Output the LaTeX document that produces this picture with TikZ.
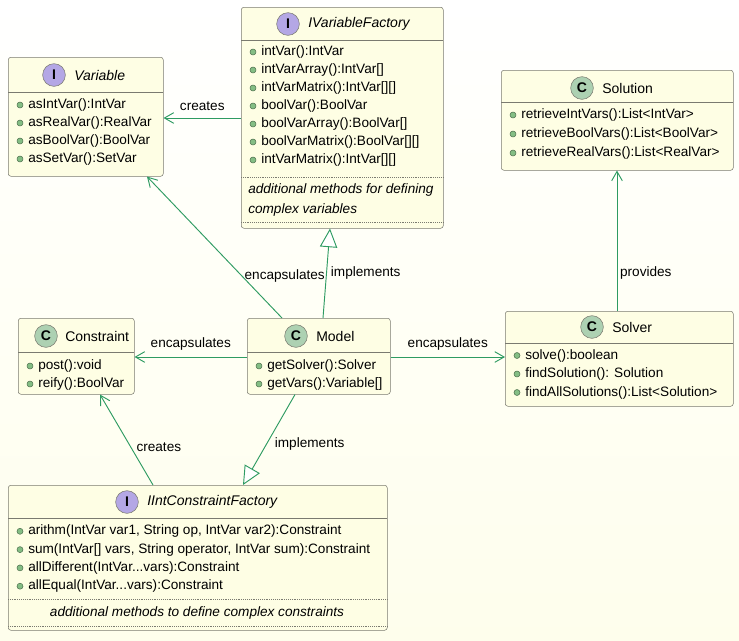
\documentclass[tikz,border=0pt]{standalone}
\usepackage{fontspec}
\setmainfont{Liberation Sans}
\usetikzlibrary{arrows.meta,calc}
\definecolor{boxfill}{HTML}{FEFEE4}
\definecolor{boxline}{HTML}{7A7A70}
\definecolor{linkcol}{HTML}{2E9B62}
\definecolor{iface}{HTML}{B4A7E5}
\definecolor{klass}{HTML}{ADD1B2}
\definecolor{dotcol}{HTML}{84BE84}
\newcommand\tdots{.{}.{}.}
\tikzset{
  box/.style={draw=boxline, fill=boxfill, rounded corners=2pt, anchor=north west, inner sep=0pt},
  spot/.style={circle, draw=boxline, minimum size=17pt, inner sep=0pt, font=\bfseries\fontsize{10.5}{10}\selectfont},
  member/.style={anchor=west, inner sep=0pt, font=\fontsize{10.2}{12}\selectfont},
  title/.style={anchor=west, inner sep=0pt, font=\fontsize{10.5}{12}\selectfont},
  dot/.style={circle, fill=dotcol, draw=dotcol!60!black, minimum size=4.5pt, inner sep=0pt},
  link/.style={draw=linkcol, line width=0.7pt, -{Straight Barb[length=7pt,width=8pt]}},
  impl/.style={draw=linkcol, line width=0.7pt, -{Triangle[open,length=14pt,width=13pt,fill=white]}},
  lab/.style={font=\fontsize{10.2}{12}\selectfont, inner sep=0pt}
}
\begin{document}
\begin{tikzpicture}[x=0.75pt,y=-0.75pt]
  \shade[top color=white, bottom color=boxfill!70] (0,0) rectangle (739,640);
  \useasboundingbox (0,0) rectangle (739,640);

  % Variable
  \node[box, minimum width=155*0.75pt, minimum height=119*0.75pt] (var) at (8,57) {};
  \draw[boxline] (8,92) -- (163,92);
  \node[spot, fill=iface] (varS) at (54,75) {I};
  \node[title, font=\itshape\fontsize{10.5}{12}\selectfont] (varT) at (74,75) {Variable};
  \foreach \t [count=\i] in {asIntVar():IntVar, asRealVar():RealVar, asBoolVar():BoolVar, asSetVar():SetVar} {
    \node[dot] (vd\i) at (20,87+18*\i) {};
    \node[member] (vm\i) at (28,87+18*\i) {\t};
  }

  % IVariableFactory
  \node[box, minimum width=202*0.75pt, minimum height=221*0.75pt] (ivf) at (241,7) {};
  \draw[boxline] (241,40) -- (443,40);
  \node[spot, fill=iface] (ivfS) at (288,24) {I};
  \node[title, font=\itshape\fontsize{10.5}{12}\selectfont] (ivfT) at (308,24) {IVariableFactory};
  \foreach \t [count=\i] in {intVar():IntVar, intVarArray():IntVar[], intVarMatrix():IntVar[][], boolVar():BoolVar, boolVarArray():BoolVar[], boolVarMatrix():BoolVar[][], intVarMatrix():IntVar[][]} {
    \node[dot] (fd\i) at (253,34+18*\i) {};
    \node[member] (fm\i) at (261,34+18*\i) {\t};
  }
  \draw[boxline, densely dotted] (241,177) -- (443,177);
  \node[member, font=\itshape\fontsize{10.2}{12}\selectfont] (ivfA) at (248,190) {additional methods for defining};
  \node[member, font=\itshape\fontsize{10.2}{12}\selectfont] (ivfB) at (248,210) {complex variables};
  \draw[boxline, densely dotted] (241,222) -- (443,222);

  % Solution
  \node[box, minimum width=232*0.75pt, minimum height=100*0.75pt] (sol) at (501,70) {};
  \draw[boxline] (501,102) -- (733,102);
  \node[spot, fill=klass] (solS) at (582,88) {C};
  \node[title] (solT) at (602,88) {Solution};
  \foreach \t [count=\i] in {retrieveIntVars():List<IntVar>, retrieveBoolVars():List<BoolVar>, retrieveRealVars():List<RealVar>} {
    \node[dot] (sd\i) at (513,96+19*\i) {};
    \node[member] (sm\i) at (521,96+19*\i) {\t};
  }

  % Constraint
  \node[box, minimum width=116*0.75pt, minimum height=76*0.75pt] (con) at (18,318) {};
  \draw[boxline] (18,352) -- (134,352);
  \node[spot, fill=klass] (conS) at (46,336) {C};
  \node[title] (conT) at (65,336) {Constraint};
  \foreach \t [count=\i] in {post():void, reify():BoolVar} {
    \node[dot] (cd\i) at (30,348+18*\i) {};
    \node[member] (cm\i) at (38,348+18*\i) {\t};
  }

  % Model
  \node[box, minimum width=143*0.75pt, minimum height=76*0.75pt] (mod) at (247,318) {};
  \draw[boxline] (247,352) -- (390,352);
  \node[spot, fill=klass] (modS) at (296,336) {C};
  \node[title] (modT) at (316,336) {Model};
  \foreach \t [count=\i] in {getSolver():Solver, getVars():Variable[]} {
    \node[dot] (md\i) at (259,348+18*\i) {};
    \node[member] (mm\i) at (267,348+18*\i) {\t};
  }

  % Solver
  \node[box, minimum width=228*0.75pt, minimum height=95*0.75pt] (slv) at (505,311) {};
  \draw[boxline] (505,343) -- (733,343);
  \node[spot, fill=klass] (slvS) at (592,327) {C};
  \node[title] (slvT) at (612,327) {Solver};
  \foreach \t [count=\i] in {solve():boolean, findSolution(): Solution, findAllSolutions():List<Solution>} {
    \node[dot] (rd\i) at (517,337+18.5*\i) {};
    \node[member] (rm\i) at (525,337+18.5*\i) {\t};
  }

  % IIntConstraintFactory
  \node[box, minimum width=379*0.75pt, minimum height=145*0.75pt] (icf) at (8,485) {};
  \draw[boxline] (8,518) -- (387,518);
  \node[spot, fill=iface] (icfS) at (127,502) {I};
  \node[title, font=\itshape\fontsize{10.5}{12}\selectfont] (icfT) at (147,502) {IIntConstraintFactory};
  \foreach \t [count=\i] in {{arithm(IntVar var1, String op, IntVar var2):Constraint}, {sum(IntVar[] vars, String operator, IntVar sum):Constraint}, allDifferent(IntVar\tdots vars):Constraint, allEqual(IntVar\tdots vars):Constraint} {
    \node[dot] (id\i) at (20,513+18.3*\i) {};
    \node[member] (im\i) at (28,513+18.3*\i) {\t};
  }
  \draw[boxline, densely dotted] (8,599) -- (387,599);
  \node[lab, font=\itshape\fontsize{10.2}{12}\selectfont] (icfA) at (197,613) {additional methods to define complex constraints};
  \draw[boxline, densely dotted] (8,626) -- (387,626);

  % connectors
  \draw[link] ([yshift=-111*0.75pt]ivf.north west) -- ([yshift=-61*0.75pt]var.north east) node[lab, midway, above=5pt] {creates};
  \draw[link] ([xshift=35*0.75pt]mod.north west) -- ([xshift=139*0.75pt]var.south west) node[lab, pos=0.3, right=2pt] {encapsulates};
  \draw[impl] ([xshift=76*0.75pt]mod.north west) -- ([xshift=89*0.75pt]ivf.south west) node[lab, pos=0.5, right=3pt] {implements};
  \draw[link] ([yshift=-39*0.75pt]mod.north west) -- ([yshift=-39*0.75pt]con.north east) node[lab, midway, above=5pt] {encapsulates};
  \draw[link] ([yshift=-39*0.75pt]mod.north east) -- ([yshift=-46*0.75pt]slv.north west) node[lab, midway, above=5pt] {encapsulates};
  \draw[link] ([xshift=112*0.75pt]slv.north west) -- ([xshift=116*0.75pt]sol.south west) node[lab, pos=0.27, right=2pt] {provides};
  \draw[link] ([xshift=145*0.75pt]icf.north west) -- ([xshift=82*0.75pt]con.south west) node[lab, pos=0.42, right=4pt] {creates};
  \draw[impl] ([xshift=48*0.75pt]mod.south west) -- ([xshift=235*0.75pt]icf.north west) node[lab, pos=0.55, right=6pt] {implements};
\end{tikzpicture}
\end{document}
